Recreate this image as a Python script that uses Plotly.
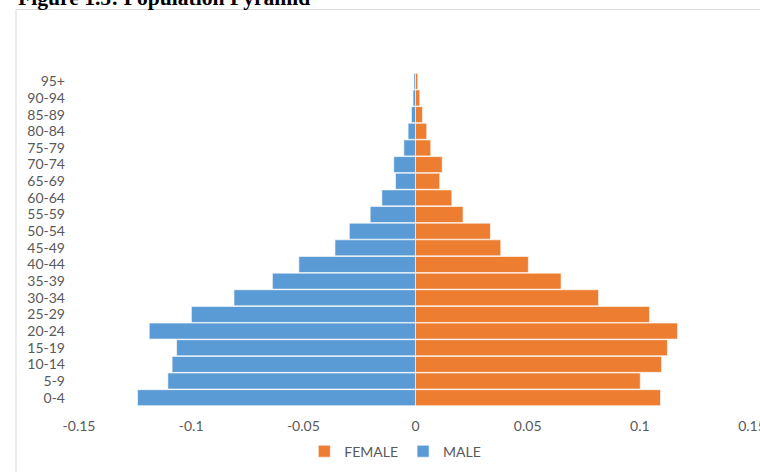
import plotly.graph_objects as go

age_groups = ["0-4", "5-9", "10-14", "15-19", "20-24", "25-29", "30-34", "35-39",
              "40-44", "45-49", "50-54", "55-59", "60-64", "65-69", "70-74",
              "75-79", "80-84", "85-89", "90-94", "95+"]

female = [0.1092, 0.1002, 0.1097, 0.1123, 0.1168, 0.1043, 0.0816, 0.0649,
          0.0503, 0.0380, 0.0334, 0.0212, 0.0162, 0.0108, 0.0119,
          0.0068, 0.0050, 0.0031, 0.0019, 0.0010]

male = [-0.1239, -0.1104, -0.1085, -0.1065, -0.1187, -0.0999, -0.0809, -0.0638,
        -0.0520, -0.0359, -0.0295, -0.0202, -0.0150, -0.0089, -0.0097,
        -0.0052, -0.0033, -0.0018, -0.0011, -0.0007]

x_ticks = [-0.15, -0.1, -0.05, 0, 0.05, 0.1, 0.15]
x_tick_text = ["-0.15", "-0.1", "-0.05", "0", "0.05", "0.1", "0.15"]

font_family = "Lato, Calibri, Open Sans, sans-serif"
grey = "#595959"

fig = go.Figure()
fig.add_trace(go.Bar(
    y=age_groups, x=female, name="FEMALE", orientation="h",
    marker=dict(color="#ED7D31", line=dict(color="rgba(255,255,255,0.6)", width=1)),
))
fig.add_trace(go.Bar(
    y=age_groups, x=male, name="MALE", orientation="h",
    marker=dict(color="#5B9BD5", line=dict(color="rgba(255,255,255,0.6)", width=1)),
))

fig.update_layout(
    width=760, height=472,
    margin=dict(l=79, r=8, t=73, b=66, autoexpand=False),
    barmode="relative",
    bargap=0.04,
    paper_bgcolor="white",
    plot_bgcolor="white",
    font=dict(family=font_family, size=14, color=grey),
    showlegend=True,
    legend=dict(
        orientation="h", x=0.470, xanchor="center", y=-0.137, yanchor="middle",
        font=dict(family=font_family, size=14, color=grey),
        traceorder="normal",
    ),
    xaxis=dict(
        range=[-0.15, 0.15], tickmode="array", tickvals=x_ticks, ticktext=x_tick_text,
        showgrid=False, zeroline=False, showline=False, automargin=False,
        ticks="", ticklabelstandoff=10, ticklabeloverflow="allow",
        tickfont=dict(family=font_family, size=14, color=grey),
    ),
    yaxis=dict(
        type="category", categoryorder="array", categoryarray=age_groups,
        tickmode="array", tickvals=age_groups,
        showgrid=False, zeroline=False, showline=False, automargin=False,
        ticks="", ticklabelstandoff=13,
        tickfont=dict(family=font_family, size=14, color=grey),
    ),
    shapes=[dict(
        type="rect", xref="paper", yref="paper",
        x0=-0.0936, x1=1.2, y0=-0.3, y1=1.1906,
        line=dict(color="#D9D9D9", width=1), fillcolor="rgba(0,0,0,0)", layer="below",
    )],
    annotations=[dict(
        text="<b>Figure 1.5: Population Pyramid</b>",
        xref="paper", yref="paper", x=-0.0936, xanchor="left",
        y=1.225, yanchor="middle", showarrow=False,
        font=dict(family="Liberation Serif, Times New Roman, serif", size=21.6, color="black"),
    )],
)

fig.write_html("out.html", config={"displayModeBar": False},
               post_script="document.body.style.margin='0px';")
